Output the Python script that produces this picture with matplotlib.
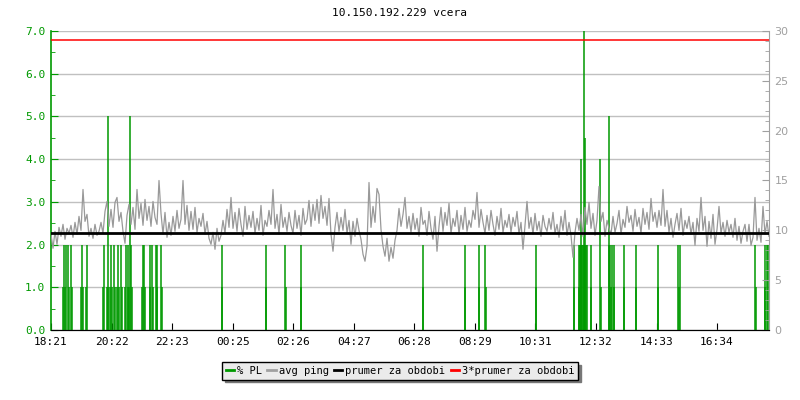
import matplotlib
matplotlib.use('Agg')
import matplotlib.pyplot as plt
import numpy as np

# Time axis: minutes since 18:21, one ping sample every 4 minutes
ping_step = 4
tick_labels = ['18:21', '20:22', '22:23', '00:25', '02:26', '04:27',
               '06:28', '08:29', '10:31', '12:32', '14:33', '16:34']
tick_step = 121.1
span = 1436

# avg ping [ms]
ping = [9.6, 8.2, 9.9, 8.6, 10.3, 9.4, 10.6, 9.1, 10.2, 9.7,
        10.5, 9.3, 10.8, 9.6, 11.4, 10.0, 14.1, 10.9, 11.6, 9.4,
        10.2, 9.2, 10.6, 9.5, 9.9, 10.8, 9.7, 11.9, 12.9, 10.4,
        12.1, 10.3, 12.8, 13.3, 10.9, 11.8, 9.9, 8.7, 11.5, 12.6,
        10.6, 12.3, 10.1, 14.1, 11.2, 12.7, 10.5, 13.1, 11.0, 12.4,
        10.4, 12.9, 11.3, 10.6, 15.0, 11.7, 9.6, 11.8, 9.3, 10.8,
        9.5, 11.4, 9.9, 12.0, 10.2, 11.1, 15.0, 10.6, 12.5, 10.0,
        11.9, 10.1, 12.3, 9.8, 11.2, 10.4, 11.7, 9.6, 10.9, 9.2,
        8.6, 9.8, 8.1, 10.2, 8.9, 9.5, 11.0, 9.7, 12.1, 10.3,
        13.3, 10.2, 11.8, 9.9, 12.2, 10.6, 9.4, 12.4, 10.1, 11.5,
        10.3, 11.9, 9.7, 11.2, 10.0, 12.5, 9.5, 11.0, 10.4, 12.0,
        10.6, 14.1, 10.2, 11.6, 9.6, 12.6, 10.3, 11.3, 9.9, 11.8,
        10.5, 9.7, 12.0, 10.2, 11.5, 9.5, 12.2, 10.6, 11.1, 13.0,
        10.4, 12.6, 11.0, 13.1, 10.7, 13.5, 11.2, 12.4, 10.5, 13.2,
        9.6, 7.9, 10.3, 11.8, 9.9, 11.3, 10.0, 12.1, 9.7, 11.0,
        8.6, 10.9, 9.4, 11.2, 10.0, 9.1, 7.6, 6.9, 8.4, 14.8,
        10.3, 12.4, 10.8, 14.2, 13.6, 10.1, 8.4, 7.4, 9.2, 6.9,
        8.3, 7.2, 9.0, 10.0, 12.2, 10.4, 11.6, 13.3, 10.2, 11.4,
        9.8, 11.7, 10.1, 11.2, 9.4, 12.3, 10.6, 11.0, 9.5, 11.9,
        10.2, 9.1, 11.4, 7.9, 10.4, 12.3, 9.9, 11.8, 10.5, 12.7,
        9.7, 11.2, 10.4, 12.0, 9.6, 11.5, 10.1, 12.3, 9.9, 11.0,
        10.3, 12.0, 11.1, 13.8, 10.3, 12.1, 10.8, 9.7, 11.5, 10.0,
        12.0, 10.6, 9.5, 11.4, 10.1, 12.2, 9.8, 11.0, 10.3, 11.6,
        9.8, 11.3, 10.4, 11.9, 9.6, 10.8, 8.1, 10.5, 12.9, 10.2,
        11.3, 9.6, 11.7, 10.0, 10.9, 9.4, 11.5, 10.4, 9.9, 11.2,
        10.1, 11.8, 9.7, 10.6, 9.3, 11.4, 10.0, 12.0, 9.5, 10.8,
        9.5, 7.3, 9.8, 11.2, 10.0, 11.6, 9.4, 12.3, 10.6, 12.8,
        10.2, 11.7, 9.5, 11.0, 14.4, 10.9, 11.8, 9.4, 11.0, 10.2,
        9.6, 11.4, 9.8, 10.7, 12.0, 9.6, 11.1, 10.3, 12.4, 10.8,
        11.5, 9.9, 12.1, 10.4, 11.3, 9.7, 12.2, 10.6, 11.8, 10.1,
        13.2, 10.9, 11.8, 10.3, 12.0, 10.5, 14.1, 10.4, 12.0, 9.8,
        11.2, 9.3, 10.6, 11.7, 10.0, 12.2, 9.5, 11.0, 10.2, 11.4,
        9.6, 10.8, 8.5, 11.2, 9.9, 13.3, 10.0, 11.4, 8.4, 10.9,
        9.2, 11.6, 8.6, 10.1, 12.4, 9.7, 10.8, 9.4, 11.0, 9.8,
        10.6, 9.3, 11.2, 9.0, 10.4, 8.7, 9.9, 10.6, 8.9, 10.6,
        8.5, 9.3, 13.3, 9.0, 10.2, 8.8, 12.4, 9.6, 10.9, 9.4]

# packet loss events: minute, % PL
pl_minutes = [23, 25, 28, 30, 33, 35, 39, 42, 60, 62, 64, 70, 72,
              104, 106, 111, 113, 114, 118, 120, 122, 125, 127, 132, 133, 136,
              139, 141, 148, 149, 153, 154, 156, 158, 160, 161,
              182, 183, 186, 187, 197, 198, 201, 203, 209, 211, 212, 220, 221,
              341, 342, 429, 430, 468, 469, 499, 500,
              743, 744, 827, 828, 855, 856, 868, 869, 969, 970,
              1045, 1046, 1055, 1056, 1058, 1059, 1060, 1062, 1064, 1065, 1066,
              1067, 1068, 1070, 1072, 1079, 1080, 1098, 1099,
              1115, 1116, 1118, 1120, 1121, 1125, 1126, 1145, 1146, 1169, 1170,
              1213, 1214, 1254, 1255, 1257, 1408, 1409, 1427, 1428, 1431, 1434]
pl_values = [1, 2, 1, 2, 2, 1, 2, 1, 1, 2, 1, 1, 2,
             1, 2, 1, 5, 1, 1, 2, 1, 2, 1, 1, 2, 1,
             2, 1, 1, 2, 1, 2, 1, 5, 2, 1,
             1, 2, 2, 1, 1, 2, 2, 1, 2, 2, 1, 2, 1,
             2, 1, 2, 1, 2, 1, 2, 1,
             2, 1, 1, 2, 1, 2, 2, 1, 2, 1,
             2, 1, 1, 2, 2, 4, 2, 2, 2, 7.5, 2,
             4.5, 2, 2, 2, 2, 1, 4, 1,
             5, 2, 2, 1, 2, 2, 1, 2, 1, 2, 1,
             2, 1, 2, 1, 2, 2, 1, 1, 2, 2, 2]

ping_avg = 9.7  # prumer za obdobi [ms]

green = '#009900'
grey = '#999999'
mono = 'DejaVu Sans Mono'

fig = plt.figure(figsize=(8, 4), dpi=100)
ax = fig.add_axes([51 / 800, 1 - 330 / 400, 718 / 800, 299 / 400])
ax2 = ax.twinx()

t_ping = np.arange(len(ping)) * ping_step
ax2.plot(t_ping, ping, color=grey, lw=0.9, zorder=2)
ax.vlines(pl_minutes, 0, pl_values, color=green, lw=1.1, zorder=3)
ax2.axhline(ping_avg, color='black', lw=2, zorder=4)
ax2.axhline(3 * ping_avg, color='red', lw=1.1, zorder=4)

ax.set_xlim(0, span)
ax.set_ylim(0, 7)
ax2.set_ylim(0, 30)
ax2.set_zorder(ax.get_zorder() + 1)
ax2.patch.set_visible(False)
ax.set_zorder(1)

# left axis (% PL)
ax.set_yticks(np.arange(0, 7.1, 1))
ax.set_yticks(np.arange(0.5, 7, 1), minor=True)
ax.set_yticklabels([f'{v:.1f}' for v in np.arange(0, 7.1, 1)],
                   family=mono, fontsize=8, color=green)
ax.tick_params(axis='y', which='major', direction='in', length=5, color=green, pad=4)
ax.tick_params(axis='y', which='minor', direction='in', length=3, color=green)
ax.yaxis.grid(True, color='#c0c0c0', lw=1)
ax.set_axisbelow(True)

# bottom axis
ax.set_xticks(np.arange(len(tick_labels)) * tick_step)
ax.set_xticklabels(tick_labels, family=mono, fontsize=8)
ax.tick_params(axis='x', direction='in', length=5, color='black', pad=5)

# right axis (ping ms)
ax2.set_yticks(np.arange(0, 31, 5))
ax2.set_yticks(np.arange(0, 31, 1), minor=True)
ax2.tick_params(axis='y', which='major', direction='in', length=5, color='#a0a0a0',
                labelcolor='#a0a0a0', labelsize=8, pad=4)
ax2.tick_params(axis='y', which='minor', direction='in', length=3, color='#a0a0a0')

for a in (ax, ax2):
    a.spines['top'].set_visible(False)
    a.spines['bottom'].set_color('black')
ax.spines['left'].set_color(green)
ax.spines['left'].set_linewidth(1.2)
ax.spines['right'].set_visible(False)
ax2.spines['left'].set_visible(False)
ax2.spines['right'].set_color('#a0a0a0')

fig.text(0.5, 1 - 13 / 400, '10.150.192.229 vcera', ha='center', va='center',
         family=mono, fontsize=8)

handles = [plt.Line2D([], [], color=c, lw=2) for c in (green, '#a0a0a0', 'black', 'red')]
labels = ['% PL', 'avg ping', 'prumer za obdobi', '3*prumer za obdobi']
leg = fig.legend(handles, labels, loc='center', bbox_to_anchor=(0.5, 1 - 371 / 400),
                 ncol=4, prop={'family': mono, 'size': 7.5}, handlelength=0.8,
                 handletextpad=0.3, columnspacing=0.5, borderpad=0.35,
                 fancybox=False, shadow={'color': '#777777', 'alpha': 1},
                 edgecolor='black', facecolor='#ebebeb', framealpha=1)
leg.get_frame().set_linewidth(1)

fig.savefig('out.png', dpi=100)
